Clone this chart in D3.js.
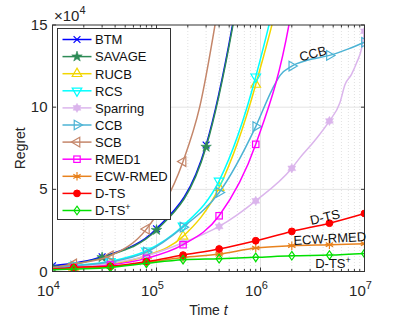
<!DOCTYPE html>
<html lang="en">
<head>
<meta charset="UTF-8" />
<title>Regret</title>
<script src="https://d3js.org/d3.v7.min.js"></script>
<style>
  body { margin: 0; background: #fff; }
  svg { font-family: "Liberation Sans", Arial, sans-serif; }
</style>
</head>
<body>
<svg width="403" height="324"></svg>
<script>
// Data (regret in units of 1e4)
const gridA = [1e4, 1.6e4, 3.6e4, 8e4, 1.8e5, 4e5, 9e5, 2e6, 4.6e6, 1e7];
const gridB = [1e4, 3e4, 1e5, 3e5, 1e6];
const markA = [1.6e4, 3.6e4, 8e4, 1.8e5, 4e5, 9e5, 2e6, 4.6e6, 1e7];
const markB = gridB;

const btmV = [0.35, 0.9, 2.6, 7.7, 25.2];
const savageV = [0.25, 0.86, 2.52, 7.58, 25];
const rucbV = [0.15, 0.25, 0.45, 0.96, 2.14, 5.1, 11.38, 21, 40, 60];
const rcsV = [0.2, 0.35, 0.62, 1.26, 2.78, 5.51, 11.85, 22, 40, 60];
const sparT = [1e4, 1.6e4, 3.6e4, 8e4, 1.8e5, 4e5, 9e5, 2e6, 2.4e6, 3.3e6, 4.6e6, 5.8e6, 6.5e6, 7.5e6, 8.4e6, 9.4e6, 1e7];
const sparV = [0.15, 0.25, 0.5, 0.95, 1.75, 2.74, 4.3, 6.28, 6.93, 7.94, 9.16, 10.27, 11.38, 12.0, 12.7, 13.6, 14.62];
const ccbT = [1e4, 1.6e4, 3.6e4, 8e4, 1.8e5, 4e5, 9e5, 1.3e6, 1.55e6, 2e6, 2.8e6, 4.6e6, 7e6, 1e7];
const ccbV = [0.2, 0.33, 0.58, 1.18, 2.7, 4.81, 8.82, 11.1, 11.95, 12.5, 12.85, 13.15, 13.55, 13.95];
const scbT = [1e4, 1.6e4, 3.6e4, 8e4, 1.8e5, 2.6e5, 4e5];
const scbV = [0.25, 0.46, 0.96, 2.58, 6.69, 10.0, 16.5];
const rmedV = [0.15, 0.22, 0.4, 0.8, 1.63, 3.39, 7.74, 16, 35, 55];
const ecwV = [0.12, 0.18, 0.3, 0.55, 0.85, 1.06, 1.43, 1.57, 1.63, 1.69];
const dtsV = [0.15, 0.25, 0.32, 0.6, 1.0, 1.37, 1.87, 2.44, 2.94, 3.53];
const dtspV = [0.1, 0.15, 0.25, 0.5, 0.72, 0.78, 0.86, 0.96, 1.0, 1.1];

const yTicks = [0, 5, 10, 15];
const xTicks = [1e4, 1e5, 1e6, 1e7];

const series = [
  { name: "BTM", t: gridB, v: btmV, marks: markB, color: "#0000ff", m: "x" },
  { name: "SAVAGE", t: gridB, v: savageV, marks: markB, color: "#2e8b57", m: "star" },
  { name: "RUCB", t: gridA, v: rucbV, marks: markA, color: "#f2d600", m: "tri-up" },
  { name: "RCS", t: gridA, v: rcsV, marks: markA, color: "#00ffff", m: "tri-down" },
  { name: "Sparring", t: sparT, v: sparV, marks: markA, color: "#dbb5ec", m: "hex" },
  { name: "CCB", t: ccbT, v: ccbV, marks: markA, color: "#4cb3d4", m: "tri-right" },
  { name: "SCB", t: scbT, v: scbV, marks: markA, color: "#c4866a", m: "tri-left" },
  { name: "RMED1", t: gridA, v: rmedV, marks: markA, color: "#ff00ff", m: "square" },
  { name: "ECW-RMED", t: gridA, v: ecwV, marks: markA, color: "#e8821e", m: "asterisk" },
  { name: "D-TS", t: gridA, v: dtsV, marks: markA, color: "#ff0000", m: "circle" },
  { name: "D-TS+", t: gridA, v: dtspV, marks: markA, color: "#00e000", m: "diamond" },
];

// Layout
const M = { left: 52.5, right: 364.5, top: 25, bottom: 271.5 };
const x = d3.scaleLog().domain([1e4, 1e7]).range([M.left, M.right]);
const y = d3.scaleLinear().domain([0, 15]).range([M.bottom, M.top]);

const svg = d3.select("svg");
const defs = svg.append("defs");
defs.append("clipPath").attr("id", "clip")
  .append("rect").attr("x", M.left).attr("y", M.top)
  .attr("width", M.right - M.left).attr("height", M.bottom - M.top);

// Grid
const grid = svg.append("g");
const minor = [];
for (let d = 1e4; d < 1e7; d *= 10) for (let k = 2; k <= 9; k++) minor.push(d * k);
grid.selectAll(".minor").data(minor).enter().append("line")
  .attr("x1", d => x(d)).attr("x2", d => x(d))
  .attr("y1", M.top).attr("y2", M.bottom)
  .attr("stroke", "#d4d4d4").attr("stroke-width", 0.7).attr("stroke-dasharray", "1,2");
grid.selectAll(".xmaj").data([1e5, 1e6]).enter().append("line")
  .attr("x1", d => x(d)).attr("x2", d => x(d))
  .attr("y1", M.top).attr("y2", M.bottom)
  .attr("stroke", "#e3e3e3").attr("stroke-width", 1);
grid.selectAll(".ymaj").data([5, 10]).enter().append("line")
  .attr("x1", M.left).attr("x2", M.right)
  .attr("y1", d => y(d)).attr("y2", d => y(d))
  .attr("stroke", "#e3e3e3").attr("stroke-width", 1);

// Marker drawing
function marker(g, type, color, cx, cy) {
  const s = 3.4;
  const p = g.append("g").attr("transform", `translate(${cx},${cy})`);
  const st = { stroke: color, "stroke-width": 1.2, fill: "none" };
  const apply = (el, o) => { Object.entries(o).forEach(([k, v]) => el.attr(k, v)); return el; };
  if (type === "x") {
    apply(p.append("path").attr("d", `M${-s},${-s}L${s},${s}M${-s},${s}L${s},${-s}`), st);
  } else if (type === "star") {
    apply(p.append("path").attr("d", d3.symbol(d3.symbolStar, 34)()), { fill: color, stroke: color, "stroke-width": 0.6 });
  } else if (type.startsWith("tri")) {
    const rot = { "tri-up": 0, "tri-down": 180, "tri-right": 90, "tri-left": -90 }[type];
    apply(p.append("path").attr("d", d3.symbol(d3.symbolTriangle, 40)()).attr("transform", `rotate(${rot})`), st);
  } else if (type === "hex") {
    const r = 4.6;
    const tri = a => d3.range(3).map(i => {
      const ang = a + i * 2 * Math.PI / 3;
      return [r * Math.sin(ang), -r * Math.cos(ang)];
    });
    p.append("path").attr("d", "M" + tri(0).join("L") + "Z M" + tri(Math.PI).join("L") + "Z")
      .attr("fill", color).attr("stroke", color).attr("stroke-width", 0.5);
  } else if (type === "square") {
    apply(p.append("rect").attr("x", -3.2).attr("y", -3.2).attr("width", 6.4).attr("height", 6.4), st);
  } else if (type === "asterisk") {
    const a = 4.2;
    apply(p.append("path").attr("d",
      `M0,${-a}L0,${a}M${-a * 0.87},${-a / 2}L${a * 0.87},${a / 2}M${-a * 0.87},${a / 2}L${a * 0.87},${-a / 2}M${-a},0L${a},0`), st);
  } else if (type === "circle") {
    p.append("circle").attr("r", 3.4).attr("fill", color).attr("stroke", color);
  } else if (type === "diamond") {
    apply(p.append("path").attr("d", "M0,-4.3L3,0L0,4.3L-3,0Z"), st);
  }
}

// Lines
const plot = svg.append("g").attr("clip-path", "url(#clip)");
const line = d3.line().x(d => x(d[0])).y(d => y(d[1])).curve(d3.curveMonotoneX);
series.forEach(s => {
  const pts = s.t.map((t, i) => [t, s.v[i]]);
  plot.append("path").datum(pts).attr("d", line)
    .attr("fill", "none").attr("stroke", s.color).attr("stroke-width", 1.5);
  pts.filter(d => s.marks.includes(d[0]) && d[1] <= 15.3)
    .forEach(d => marker(plot, s.m, s.color, x(d[0]), y(d[1])));
});

// Axes box and ticks
const ax = svg.append("g").attr("stroke", "#333").attr("stroke-width", 1);
ax.append("rect").attr("x", M.left).attr("y", M.top)
  .attr("width", M.right - M.left).attr("height", M.bottom - M.top).attr("fill", "none");
minor.forEach(d => {
  ax.append("line").attr("x1", x(d)).attr("x2", x(d)).attr("y1", M.bottom).attr("y2", M.bottom - 2.5);
  ax.append("line").attr("x1", x(d)).attr("x2", x(d)).attr("y1", M.top).attr("y2", M.top + 2.5);
});
xTicks.forEach(d => {
  ax.append("line").attr("x1", x(d)).attr("x2", x(d)).attr("y1", M.bottom).attr("y2", M.bottom - 4);
  ax.append("line").attr("x1", x(d)).attr("x2", x(d)).attr("y1", M.top).attr("y2", M.top + 4);
});
yTicks.forEach(d => {
  ax.append("line").attr("x1", M.left).attr("x2", M.left + 3.5).attr("y1", y(d)).attr("y2", y(d));
  ax.append("line").attr("x1", M.right).attr("x2", M.right - 3.5).attr("y1", y(d)).attr("y2", y(d));
});

// Tick labels
const lab = svg.append("g").attr("fill", "#262626");
yTicks.forEach(d => {
  lab.append("text").attr("x", M.left - 5).attr("y", y(d) + 5)
    .attr("text-anchor", "end").attr("font-size", 15).text(d);
});
xTicks.forEach(d => {
  const t = lab.append("text").attr("x", x(d) - 4).attr("y", 296)
    .attr("text-anchor", "middle").attr("font-size", 15);
  t.append("tspan").text("10");
  t.append("tspan").attr("dy", -7).attr("font-size", 11).text(Math.round(Math.log10(d)));
});
const ex = lab.append("text").attr("x", 54).attr("y", 20.5).attr("font-size", 15);
ex.append("tspan").text("\u00d710");
ex.append("tspan").attr("dy", -7).attr("font-size", 11).text("4");

// Axis titles
lab.append("text").attr("transform", `translate(25,${(M.top + M.bottom) / 2}) rotate(-90)`)
  .attr("text-anchor", "middle").attr("font-size", 14).text("Regret");
const xt = lab.append("text").attr("x", (M.left + M.right) / 2).attr("y", 315)
  .attr("text-anchor", "middle").attr("font-size", 14);
xt.append("tspan").text("Time ");
xt.append("tspan").attr("font-style", "italic").text("t");

// In-plot labels
const inl = svg.append("g").attr("fill", "#111").attr("font-size", 13).attr("text-anchor", "middle");
inl.append("text").attr("transform", "translate(314,58) rotate(-15)").text("CCB");
inl.append("text").attr("transform", "translate(326,221.5) rotate(-13)").text("D-TS");
inl.append("text").attr("transform", "translate(330,243) rotate(-3)").text("ECW-RMED");
const dp = inl.append("text").attr("transform", "translate(333,268)");
dp.append("tspan").text("D-TS");
dp.append("tspan").attr("dy", -5).attr("font-size", 9).text("+");

// Legend
const lg = svg.append("g");
lg.append("rect").attr("x", 57.5).attr("y", 28.5).attr("width", 113).attr("height", 191)
  .attr("fill", "#fff").attr("stroke", "#333").attr("stroke-width", 1);
series.forEach((s, i) => {
  const cy = 39.5 + i * 17.1;
  lg.append("line").attr("x1", 62.5).attr("x2", 91.5).attr("y1", cy).attr("y2", cy)
    .attr("stroke", s.color).attr("stroke-width", 1.5);
  marker(lg, s.m, s.color, 77, cy);
  const t = lg.append("text").attr("x", 95).attr("y", cy + 4.8).attr("font-size", 13).attr("fill", "#111");
  if (s.name === "D-TS+") {
    t.append("tspan").text("D-TS");
    t.append("tspan").attr("dy", -5).attr("font-size", 9).text("+");
  } else {
    t.text(s.name);
  }
});
</script>
</body>
</html>
